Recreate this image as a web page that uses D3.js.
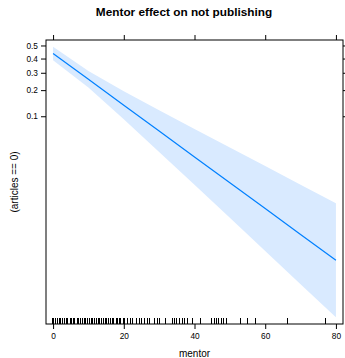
<!DOCTYPE html>
<html>
<head>
<meta charset="utf-8">
<script src="https://cdn.jsdelivr.net/npm/d3@7"></script>
<style>
  body { margin: 0; background: #fff; }
  svg { display: block; font-family: 'Liberation Sans', Arial, sans-serif; }
  .axis path, .axis line { stroke: #000; }
  .axis text { fill: #000; font-size: 8.3px; }
</style>
</head>
<body>
<div class="chart"></div>
<script>
'use strict';

// effect of mentor on P(articles == 0)
var mentorValues = [0, 10, 20, 30, 40, 50, 60, 70, 80];
var fitValues = [0.438, 0.259, 0.135, 0.0656, 0.0305, 0.0139, 0.0063, 0.00283, 0.00127];
var lowerValues = [0.387, 0.213, 0.092, 0.0354, 0.0131, 0.00472, 0.00169, 0.000606, 0.000217];
var upperValues = [0.490, 0.311, 0.195, 0.118, 0.0698, 0.0404, 0.0231, 0.0131, 0.00742];

// observed (jittered) mentor values for the rug
var rugValues = [-0.2, 0.2, 0.8, 1.2, 1.8, 2.2, 2.8, 3.2, 3.8, 4.2, 4.8, 5.2, 5.8, 6.2,
  6.8, 7.2, 7.8, 8.2, 8.8, 9.2, 9.8, 10.2, 10.8, 11.2, 11.8, 12.2, 12.8, 13.2,
  13.8, 14.2, 14.8, 15.2, 15.8, 16.2, 16.8, 17.2, 17.8, 18.2, 18.8, 19.2, 19.8, 20.2,
  21, 22, 22.6, 23.7, 24.4, 25.1, 25.8, 26.6, 27.2, 28.8, 29.4, 30, 31.7,
  33.7, 34.4, 35, 35.8, 36.5, 37.2, 37.9, 39.3, 41.8,
  44.9, 45.6, 46.2, 46.8, 47.5, 48.2, 49, 52.9, 55, 57.2, 66.4, 77];

var xTicks = [0, 20, 40, 60, 80];
var yTicks = [0.1, 0.2, 0.3, 0.4, 0.5];
var yTickLabels = ['0.1', '0.2', '0.3', '0.4', '0.5'];

var margin = {top: 40, right: 2, bottom: 34, left: 46},
  width = 345 - margin.left - margin.right,
  height = 358 - margin.top - margin.bottom;

function logit(p) {
  return Math.log(p / (1 - p));
}

var data = mentorValues.map(function(m, i) {
  return {mentor: m, fit: logit(fitValues[i]), lower: logit(lowerValues[i]), upper: logit(upperValues[i])};
});

var xMin = d3.min(mentorValues), xMax = d3.max(mentorValues);
var xPad = (xMax - xMin) * 0.025;
var x = d3.scaleLinear()
  .domain([xMin - xPad, xMax + xPad])
  .range([0, width]);

var yLo = d3.min(data, function(d) { return d.lower; });
var yHi = d3.max(data, function(d) { return d.upper; });
var yPad = (yHi - yLo) * 0.025;
var y = d3.scaleLinear()
  .domain([yLo - yPad, yHi + yPad])
  .range([height, 0]);

var svg = d3.select('.chart').append('svg')
  .attr('width', width + margin.left + margin.right)
  .attr('height', height + margin.top + margin.bottom);

svg.append('text')
  .attr('x', 184)
  .attr('y', 15.5)
  .attr('text-anchor', 'middle')
  .style('font-size', '11.8px')
  .style('font-weight', 'bold')
  .text('Mentor effect on not publishing');

var g = svg.append('g')
  .attr('transform', 'translate(' + margin.left + ',' + margin.top + ')');

///////////////////////CONFIDENCE BAND + FIT///////////////////////////////
g.append('path')
  .datum(data)
  .attr('fill', '#d9eaff')
  .attr('d', d3.area()
    .x(function(d) { return x(d.mentor); })
    .y0(function(d) { return y(d.lower); })
    .y1(function(d) { return y(d.upper); }));

g.append('path')
  .datum(data)
  .attr('fill', 'none')
  .attr('stroke', '#0080ff')
  .attr('stroke-width', 1.2)
  .attr('d', d3.line()
    .x(function(d) { return x(d.mentor); })
    .y(function(d) { return y(d.fit); }));

///////////////////////RUG///////////////////////////////
g.selectAll('.rug')
  .data(rugValues)
  .enter().append('line')
  .attr('class', 'rug')
  .attr('x1', function(d) { return x(d); })
  .attr('x2', function(d) { return x(d); })
  .attr('y1', height)
  .attr('y2', height - 6.5)
  .attr('stroke', '#000')
  .attr('stroke-width', 1)
  .attr('shape-rendering', 'crispEdges');

///////////////////////AXES///////////////////////////////
var yTickPos = yTicks.map(logit);

g.append('g')
  .attr('class', 'axis')
  .call(d3.axisLeft(y)
    .tickValues(yTickPos)
    .tickSize(5)
    .tickPadding(3)
    .tickFormat(function(d, i) { return yTickLabels[i]; }));

g.append('g')
  .attr('class', 'axis')
  .attr('transform', 'translate(' + width + ',0)')
  .call(d3.axisRight(y)
    .tickValues(yTickPos)
    .tickSize(5)
    .tickFormat(''));

g.append('g')
  .attr('class', 'axis')
  .attr('transform', 'translate(0,' + height + ')')
  .call(d3.axisBottom(x)
    .tickValues(xTicks)
    .tickSize(5)
    .tickPadding(4)
    .tickFormat(d3.format('d')));

g.append('g')
  .attr('class', 'axis')
  .call(d3.axisTop(x)
    .tickValues(xTicks)
    .tickSize(5)
    .tickFormat(''));

g.selectAll('.axis .domain').remove();

g.append('rect')
  .attr('x', 0)
  .attr('y', 0)
  .attr('width', width)
  .attr('height', height)
  .attr('fill', 'none')
  .attr('stroke', '#000');

///////////////////////AXIS TITLES///////////////////////////////
svg.append('text')
  .attr('x', margin.left + width / 2)
  .attr('y', 357)
  .attr('text-anchor', 'middle')
  .style('font-size', '10px')
  .text('mentor');

svg.append('text')
  .attr('transform', 'translate(17.5,' + (margin.top + height / 2) + ') rotate(-90)')
  .attr('text-anchor', 'middle')
  .style('font-size', '10px')
  .text('(articles == 0)');
</script>
</body>
</html>
